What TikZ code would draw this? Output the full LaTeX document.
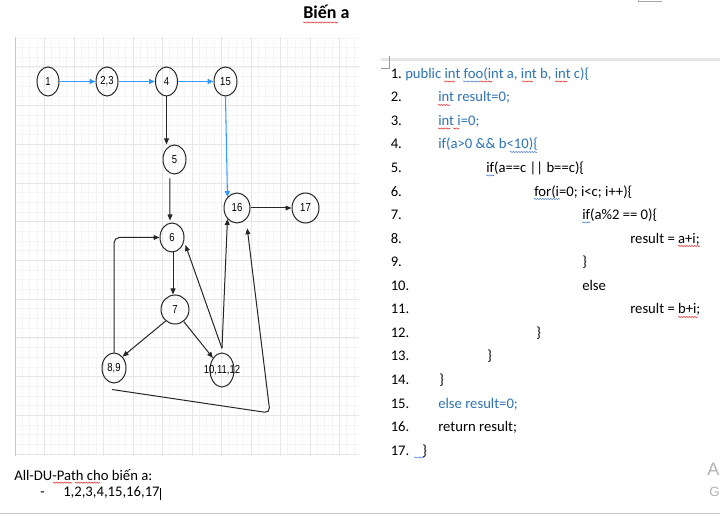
\documentclass[tikz,border=0pt]{standalone}
\usepackage{fontspec}
\setmainfont{Carlito}
\newfontfamily\nodefont{Liberation Sans}
\usetikzlibrary{shapes.geometric,arrows.meta,decorations.pathmorphing,calc}
\definecolor{codeblue}{HTML}{2E74B5}
\definecolor{edgeblue}{HTML}{3399FF}
\definecolor{gminorc}{HTML}{F5F5F5}
\definecolor{gmajorc}{HTML}{E6E6E6}
\definecolor{sqred}{HTML}{E03030}
\definecolor{sqblue}{HTML}{4A7FD0}
\newcommand{\nlab}[1]{{\nodefont\fontsize{8.7}{10}\selectfont\scalebox{0.82}[1]{#1}}}
\newcommand{\sqq}[4]{\draw[#4, line width=0.4pt, decorate, decoration={snake, amplitude=0.45pt, segment length=2pt}] (#1,#3) -- (#2,#3);}
\tikzset{
  ell/.style={draw=black!85, ellipse, inner sep=0pt, line width=0.75pt},
  barr/.style={draw=edgeblue, line width=1.1pt, -{Triangle[length=4.5pt,width=3.8pt]}},
  karr/.style={draw=black!85, line width=0.75pt, -{Triangle[length=4.5pt,width=3.6pt]}},
  gminor/.style={draw=gminorc, line width=0.6pt},
  gmajor/.style={draw=gmajorc, line width=0.75pt},
  code/.style={anchor=base west, inner sep=0pt, font=\fontsize{11}{13}\selectfont},
  bcode/.style={code, text=codeblue},
}
\begin{document}
\begin{tikzpicture}[x=0.75pt,y=-0.75pt]
\useasboundingbox (0,0) rectangle (720,516);
\fill[white] (0,0) rectangle (720,516);
% grid
\foreach \i in {0,...,46} { \draw[gminor] ({15+7.375*\i},37) -- ({15+7.375*\i},456); }
\foreach \j in {-3,...,40} { \draw[gminor] (15,{67+9.675*\j}) -- (359,{67+9.675*\j}); }
\foreach \k in {0,...,11} { \draw[gmajor] ({15+29.5*\k},37) -- ({15+29.5*\k},456); }
\foreach \k in {0,...,10} { \draw[gmajor] (15,{67+38.7*\k}) -- (359,{67+38.7*\k}); }
\draw[draw=black!22, line width=0.75pt] (15,37) -- (15,456);

% nodes
\node[ell, minimum width=16.5pt, minimum height=21.75pt, label={center:\nlab{1}}] (n1) at (48,81.5) {};
\node[ell, minimum width=16.5pt, minimum height=21.75pt, label={center:\nlab{2,3}}] (n23) at (107,81.5) {};
\node[ell, minimum width=16.5pt, minimum height=21.75pt, label={center:\nlab{4}}] (n4) at (166.5,81.5) {};
\node[ell, minimum width=17.25pt, minimum height=21.75pt, label={center:\nlab{15}}] (n15) at (225.5,81.5) {};
\node[ell, minimum width=17.25pt, minimum height=21.75pt, label={center:\nlab{5}}] (n5) at (174.5,159.5) {};
\node[ell, minimum width=19.5pt, minimum height=22.5pt, label={center:\nlab{16}}] (n16) at (237,208) {};
\node[ell, minimum width=20.25pt, minimum height=22.5pt, label={center:\nlab{17}}] (n17) at (305.5,208) {};
\node[ell, minimum width=18pt, minimum height=21.75pt, label={center:\nlab{6}}] (n6) at (172,237.5) {};
\node[ell, minimum width=21pt, minimum height=21.75pt, label={center:\nlab{7}}] (n7) at (175,309.5) {};
\node[ell, minimum width=18pt, minimum height=22.5pt, label={center:\nlab{8,9}}] (n89) at (114,368) {};
\node[ell, minimum width=18pt, minimum height=25.5pt, label={center:\nlab{10,11,12}}] (n10) at (222,370) {};

% blue edges
\draw[barr] (n1.east) -- (n23.west);
\draw[barr] (n23.east) -- (n4.west);
\draw[barr] (n4.east) -- (n15.west);
\draw[barr, line width=0.8pt] (n15.south) -- (n16.north west);
% black edges
\draw[karr] (n4.south) -- (n4.south |- n5.north);
\draw[karr] ([xshift=-3.4pt,yshift=-3pt]n5.south) -- ([xshift=-1.5pt,yshift=1.5pt]n6.north);
\draw[karr] ([xshift=0.75pt]n6.south) -- ([xshift=0.75pt]n6.south |- n7.north);
\draw[karr] (n16.east) -- (n17.west);
\draw[karr] (n7.231) -- (n89.53);
\draw[karr] (n7.-54) -- (n10.127);
\draw[karr, rounded corners=4pt] (n89.north) |- (n6.west);
\draw[karr] ([yshift=3pt]n10.north) -- ([xshift=2pt]n6.-35);
\draw[karr] ([yshift=3.5pt]n10.north) -- (n16.south west);
\coordinate (bend) at (270,413);
\draw[karr, rounded corners=4pt] ([xshift=-1.5pt,yshift=-4.5pt]n89.south) -- (bend) -- ([xshift=0.5pt,yshift=-7pt]n16.south east);

% title
\node[anchor=base west, inner sep=0pt, font=\fontsize{13.5}{16}\selectfont\bfseries] (title) at (303,19) {Biến a};
\sqq{303}{338}{22.5}{sqred}

% page marks
\draw[draw=black!35, line width=0.75pt] (638,0) -- (638,2) -- (662,2);
\fill[black!10] (381,57.7) rectangle (720,60.7);
\draw[draw=black!40, line width=0.6pt] (389.3,56) -- (389.3,68) -- (381,68);

% code
\node[code] (l1n) at (390.5,78.3) {1.};
\node[bcode] (l1t) at (405,78.3) {public int foo(int a, int b, int c)\{};
\node[code] (l2n) at (390.5,101.85) {2.};
\node[bcode] (l2t) at (438,101.85) {int result=0;};
\node[code] (l3n) at (390.5,125.4) {3.};
\node[bcode] (l3t) at (438,125.4) {int i=0;};
\node[code] (l4n) at (390.5,148.95) {4.};
\node[bcode] (l4t) at (438,148.95) {if(a>0 \&\& b<10)\{};
\node[code] (l5n) at (390.5,172.5) {5.};
\node[code] (l5t) at (486,172.5) {if(a==c || b==c)\{};
\node[code] (l6n) at (390.5,196.05) {6.};
\node[code] (l6t) at (534,196.05) {for(i=0; i<c; i++)\{};
\node[code] (l7n) at (390.5,219.6) {7.};
\node[code] (l7t) at (582,219.6) {if(a\%2 == 0)\{};
\node[code] (l8n) at (390.5,243.15) {8.};
\node[code] (l8t) at (630,243.15) {result = a+i;};
\node[code] (l9n) at (390.5,266.7) {9.};
\node[code] (l9t) at (582,266.7) {\}};
\node[code] (l10n) at (390.5,290.25) {10.};
\node[code] (l10t) at (582,290.25) {else};
\node[code] (l11n) at (390.5,313.8) {11.};
\node[code] (l11t) at (630,313.8) {result = b+i;};
\node[code] (l12n) at (390.5,337.35) {12.};
\node[code] (l12t) at (536,337.35) {\}};
\node[code] (l13n) at (390.5,360.9) {13.};
\node[code] (l13t) at (487,360.9) {\}};
\node[code] (l14n) at (390.5,384.45) {14.};
\node[code] (l14t) at (439,384.45) {\}};
\node[code] (l15n) at (390.5,408.0) {15.};
\node[bcode] (l15t) at (438,408.0) {else result=0;};
\node[code] (l16n) at (390.5,431.55) {16.};
\node[code] (l16t) at (438,431.55) {return result;};
\node[code] (l17n) at (390.5,455.1) {17.};
\node[code] (l17t) at (422,455.1) {\}};

% spell-check squiggles
\sqq{444}{455}{81.5}{sqred}
\sqq{463}{480}{81.5}{sqblue}
\sqq{480}{492}{81.5}{sqred}
\sqq{522}{533}{81.5}{sqred}
\sqq{555}{567}{81.5}{sqred}
\sqq{438}{450}{105}{sqred}
\sqq{438}{450}{128.5}{sqred}
\sqq{453}{459}{128.5}{sqred}
\sqq{510}{537}{152}{sqblue}
\sqq{486}{494}{175.5}{sqblue}
\sqq{534}{560}{199}{sqblue}
\sqq{582}{590}{222.5}{sqblue}
\sqq{678}{700}{246}{sqred}
\sqq{678}{698}{317}{sqred}
\sqq{414}{424}{457.5}{sqblue}

% bottom text
\node[code] (dutitle) at (14,480) {All-DU-Path cho biến a:};
\sqq{53}{72}{482.7}{sqred}
\sqq{75}{100}{482.7}{sqred}
\node[code] (dash) at (40,496.7) {-};
\node[code] (path) at (63,496.7) {1,2,3,4,15,16,17};
\draw[line width=0.6pt] (path.east |- 0,487.5) ++(0.6,0) -- ++(0,12);
\draw[draw=black!22, line width=0.75pt] (0,513) -- (720,513);

% watermark fragments
\node[anchor=base west, inner sep=0pt, text=black!30, font=\nodefont\fontsize{13.5}{15}\selectfont] (wa) at (707,475) {A};
\node[anchor=base west, inner sep=0pt, text=black!30, font=\nodefont\fontsize{10}{12}\selectfont] (wg) at (709,496) {G};
\end{tikzpicture}
\end{document}
